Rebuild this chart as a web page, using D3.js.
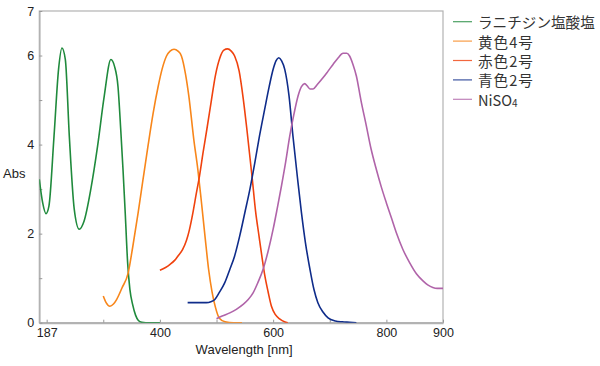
<!DOCTYPE html>
<html><head><meta charset="utf-8">
<script src="https://cdn.jsdelivr.net/npm/d3@7"></script>
<style>body{margin:0;background:#fff}svg{display:block}</style>
</head><body>
<svg id="c" width="600" height="366"></svg>
<script>
// ---- data ----
const seriesNames = ["ラニチジン塩酸塩", "黄色4号", "赤色2号", "青色2号", "NiSO4"];
const seriesColors = ["#1f8a3c", "#f8861a", "#f0420e", "#0f2c8a", "#b064a9"];

const ranitidineNm  = [187,193,198.8,204,213,221,227,233,240,248.7,257.5,266,278,290,301.7,313.5,320,326,331,335,339,343,347,352,357,362,368,375,400];
const ranitidineAbs = [3.22,2.69,2.45,2.62,4.19,5.69,6.17,5.91,4.19,2.55,2.10,2.28,3.0,3.97,5.09,5.91,5.75,5.3,4.3,3.4,2.4,1.35,0.75,0.4,0.17,0.05,0.01,0,0];

const yellow4Nm  = [300,305,311.7,318,323.5,333,344,352,361.6,370,379,388,397,404,411.7,418,425,432,438,445,451,460,467,473,480,486,492,498,505,515,530,545];
const yellow4Abs = [0.6,0.45,0.37,0.42,0.52,0.78,1.12,1.7,2.47,3.2,3.97,4.7,5.31,5.7,5.99,6.1,6.14,6.1,5.99,5.6,5.1,4.1,3.44,2.75,1.9,1.2,0.7,0.35,0.1,0.02,0,0];

const red2Nm  = [400,410,418,426,432,440,447,452,458,464,470,476,483,491,498,506,513,519.5,526,532,540,547,554,563,569,575,580,585,591,597,604,612,620,626];
const red2Abs = [1.18,1.24,1.31,1.4,1.5,1.64,1.85,2.08,2.45,2.88,3.3,3.8,4.35,5.0,5.55,5.95,6.12,6.15,6.1,5.99,5.65,5.05,4.3,3.25,2.5,1.95,1.5,1.08,0.7,0.37,0.18,0.08,0.02,0];

const blue2Nm  = [449,460,470,482,490,497,505,514.6,523,532,541,550,559,567.6,576,585,593,600,605,610,615,620.5,628,635,643,650,657,665,672,679,688,697,710,722,735,747];
const blue2Abs = [0.45,0.45,0.45,0.45,0.47,0.52,0.68,0.9,1.18,1.5,1.95,2.47,3.0,3.59,4.2,4.79,5.3,5.69,5.88,5.95,5.88,5.69,5.1,4.19,3.25,2.47,1.8,1.2,0.75,0.45,0.24,0.11,0.04,0.02,0.01,0];

const nisoNm  = [500,510,523.5,535,547,556,564.6,573,582.3,591,600,607,614.7,622,629.3,637,644,650,655.8,660,665,670.5,678,688,697,705.8,715,723.4,730,735,741,747,755,764.6,773,782.3,791,800,809,817.6,829,841,853,864.6,873,882,890,900];
const nisoAbs = [0.09,0.15,0.22,0.3,0.41,0.52,0.67,0.9,1.2,1.6,2.1,2.55,3.07,3.6,4.19,4.7,5.09,5.3,5.37,5.32,5.25,5.25,5.35,5.5,5.65,5.8,5.95,6.05,6.05,5.99,5.8,5.54,5.0,4.42,3.9,3.44,3.05,2.69,2.35,2.02,1.65,1.35,1.1,0.94,0.85,0.79,0.77,0.77];

const xTickValues = [200,300,400,500,600,700,800,900];
const xTickLabels = ["187","","400","","600","","800","900"];
const yTickValues = [0,1,2,3,4,5,6,7];
const yTickLabels = ["0","","2","","4","","6","7"];

const seriesData = [
  [ranitidineNm, ranitidineAbs],
  [yellow4Nm, yellow4Abs],
  [red2Nm, red2Abs],
  [blue2Nm, blue2Abs],
  [nisoNm, nisoAbs]
];

// ---- chart ----
const svg = d3.select("#c");
const L = 39.3, R = 443, T = 11, B = 322.7;
const x = d3.scaleLinear().domain([187, 900]).range([L, R]);
const y = d3.scaleLinear().domain([0, 7]).range([B, T]);
const frameColor = "#b2b2b2";
const labelFont = "'Liberation Sans', Arial, sans-serif";

svg.append("defs").append("clipPath").attr("id","clip")
  .append("rect").attr("x", L).attr("y", T).attr("width", R - L).attr("height", B - T);

// frame
svg.append("rect").attr("x", L).attr("y", T).attr("width", R - L).attr("height", B - T)
  .attr("fill","none").attr("stroke", frameColor).attr("stroke-width", 1.2);

// axes
const xAxis = d3.axisBottom(x).tickValues(xTickValues).tickSizeInner(-3).tickSizeOuter(0)
  .tickFormat((d,i) => xTickLabels[i]).tickPadding(5.5);
const gx = svg.append("g").attr("transform", `translate(0,${B})`).call(xAxis);
gx.select(".domain").attr("stroke", frameColor).attr("stroke-width", 2);
gx.selectAll(".tick line").attr("stroke", "#999").attr("stroke-width", 1);
gx.selectAll(".tick text").attr("font-family", labelFont).attr("font-size", 12.5).attr("fill", "#222");

const yAxis = d3.axisLeft(y).tickValues(yTickValues).tickSizeInner(-3).tickSizeOuter(0)
  .tickFormat((d,i) => yTickLabels[i]).tickPadding(5);
const gy = svg.append("g").attr("transform", `translate(${L},0)`).call(yAxis);
gy.select(".domain").attr("stroke", frameColor).attr("stroke-width", 1.6);
gy.selectAll(".tick line").attr("stroke", "#999").attr("stroke-width", 1);
gy.selectAll(".tick text").attr("font-family", labelFont).attr("font-size", 12.5).attr("fill", "#222");

// axis titles
svg.append("text").attr("x", 3).attr("y", 175).attr("dominant-baseline","middle")
  .attr("font-family", labelFont).attr("font-size", 13).attr("fill", "#222").text("Abs");
svg.append("text").attr("x", (L + R) / 2 + 3).attr("y", 354).attr("text-anchor","middle")
  .attr("font-family", labelFont).attr("font-size", 13).attr("fill", "#222").text("Wavelength [nm]");

// curves
const line = d3.line().x(d => x(d[0])).y(d => y(d[1])).curve(d3.curveMonotoneX);
const gLines = svg.append("g").attr("clip-path","url(#clip)");
seriesData.forEach((s, i) => {
  const pts = s[0].map((v, j) => [v, s[1][j]]);
  gLines.append("path").datum(pts).attr("d", line)
    .attr("fill","none").attr("stroke", seriesColors[i]).attr("stroke-width", 1.6)
    .attr("stroke-linejoin","round");
});

// legend
const legFont = "'Noto Sans CJK JP', 'Noto Sans', sans-serif";
const lg = svg.append("g");
seriesNames.forEach((name, i) => {
  const cy = 21.7 + i * 19.4;
  lg.append("line").attr("x1", 453).attr("x2", 472).attr("y1", cy).attr("y2", cy)
    .attr("stroke", seriesColors[i]).attr("stroke-width", 1.2).attr("opacity", 0.8);
  const t = lg.append("text").attr("x", 478).attr("y", cy).attr("dominant-baseline","central")
    .attr("font-family", legFont).attr("font-size", 14.6).attr("fill", "#333");
  if (name === "NiSO4") {
    t.append("tspan").text("NiSO");
    t.append("tspan").attr("font-size", 10).attr("dy", 3).text("4");
  } else if (/\d/.test(name)) {
    t.attr("letter-spacing", 1).text(name);
  } else {
    t.text(name);
  }
});
</script>
</body></html>
